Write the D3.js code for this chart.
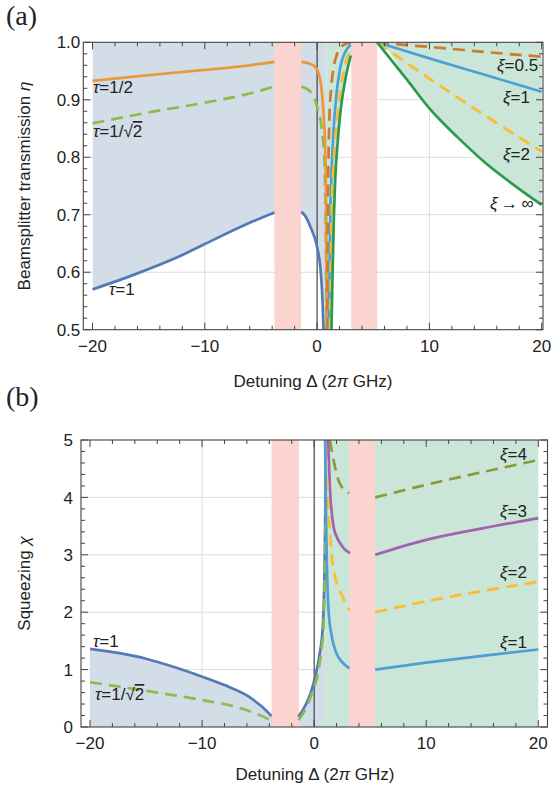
<!DOCTYPE html>
<html>
<head>
<meta charset="utf-8">
<script src="https://cdn.jsdelivr.net/npm/d3@7"></script>
<style>
body { margin: 0; background: #fff; }
text { font-family: "Liberation Sans", Arial, sans-serif; fill: #222; }
</style>
</head>
<body>
<svg id="fig" width="551" height="791"></svg>
<script>
// ---- panel (a): beamsplitter transmission eta vs detuning ----
const tauOneL  = [[-20,0.57],[-16,0.598],[-12,0.63],[-10,0.649],[-6,0.686],[-3.8,0.704]];
const tauOneR  = [[-1.4,0.705],[-1.0,0.696],[-0.6,0.679],[0,0.644],[0.28,0.61],[0.48,0.552],[0.57,0.5]];
const tauSqL   = [[-20,0.859],[-15,0.878],[-10,0.895],[-6,0.911],[-3.8,0.923]];
const tauSqR   = [[-1.4,0.923],[-0.6,0.914],[0,0.888],[0.43,0.847],[0.66,0.79],[0.75,0.7],[0.8,0.6],[0.83,0.5]];
const tauHalfL = [[-20,0.933],[-15,0.943],[-10,0.952],[-6,0.960],[-3.8,0.966]];
const tauHalfR = [[-1.4,0.966],[-0.7,0.963],[-0.2,0.958],[0.1,0.948],[0.37,0.923],[0.57,0.876],[0.72,0.82],[0.8,0.72],[0.84,0.6],[0.86,0.5]];
const xiHalfL  = [[0.9,0.5],[0.93,0.62],[0.97,0.72],[1.02,0.8],[1.1,0.87],[1.25,0.92],[1.46,0.955],[1.75,0.978],[2.06,0.99],[2.5,0.997],[3.0,1.0]];
const xiHalfR  = [[5.35,1.0],[8,0.995],[10,0.992],[15,0.983],[20,0.975]];
const xiOneL   = [[1.05,0.5],[1.12,0.62],[1.2,0.72],[1.3,0.78],[1.46,0.845],[1.7,0.905],[2.06,0.956],[2.5,0.983],[3.0,0.996]];
const xiOneR   = [[5.35,1.0],[7,0.99],[10,0.972],[15,0.943],[20,0.914]];
const xiTwoL   = [[1.15,0.5],[1.22,0.62],[1.32,0.72],[1.46,0.78],[1.7,0.847],[2.0,0.905],[2.5,0.962],[3.0,0.988]];
const xiTwoR   = [[5.35,1.0],[10,0.937],[15,0.872],[20,0.81]];
const xiInfL   = [[1.28,0.5],[1.38,0.6],[1.5,0.7],[1.61,0.76],[1.85,0.83],[2.06,0.876],[2.5,0.934],[3.0,0.977]];
const xiInfR   = [[5.35,1.0],[8,0.935],[10,0.885],[12.5,0.835],[15,0.79],[17.5,0.752],[20,0.717]];

// ---- panel (b): squeezing chi vs detuning ----
const tauOneBL = [[-20,1.36],[-17.5,1.29],[-15,1.19],[-12.5,1.045],[-10,0.877],[-8,0.73],[-6,0.55],[-4.7,0.36],[-3.8,0.19]];
const tauOneBR = [[-1.4,0.18],[-0.8,0.37],[-0.3,0.6],[0.1,0.88],[0.5,1.28],[0.75,1.7],[0.88,2.3],[0.95,3.0],[1.0,4.0],[1.03,5.0]];
const tauSqBL  = [[-20,0.78],[-15,0.63],[-10,0.47],[-7,0.35],[-5,0.22],[-3.8,0.11]];
const tauSqBR  = [[-1.4,0.12],[-0.8,0.3],[-0.2,0.59],[0.39,0.99],[0.65,1.35],[0.84,1.75],[0.93,2.4],[0.99,3.2],[1.03,4.2],[1.06,5.0]];
const xiOneBL  = [[0.98,5.0],[1.05,3.8],[1.13,2.9],[1.28,2.04],[1.58,1.57],[2.0,1.28],[2.5,1.13],[3.15,1.02]];
const xiOneBR  = [[5.45,1.0],[10,1.12],[15,1.24],[20,1.35]];
const xiTwoBL  = [[0.98,5.0],[1.15,4.2],[1.28,3.78],[1.58,2.95],[1.9,2.6],[2.3,2.38],[2.7,2.2],[3.15,2.03]];
const xiTwoBR  = [[5.45,2.0],[10,2.19],[15,2.37],[20,2.53]];
const xiThrBL  = [[1.25,5.0],[1.35,4.45],[1.43,4.07],[1.58,3.72],[1.73,3.49],[2.0,3.32],[2.32,3.2],[2.7,3.1],[3.2,3.03]];
const xiThrBR  = [[5.45,3.0],[10,3.26],[15,3.46],[20,3.64]];
const xiFourBL = [[1.4,5.0],[1.73,4.65],[2.17,4.3],[2.76,4.12],[3.1,4.07]];
const xiFourBR = [[5.45,4.0],[10,4.22],[15,4.44],[20,4.65]];

const bandsA = [[-3.8,-1.42],[3.04,5.35]];
const bandsB = [[-3.8,-1.36],[3.15,5.45]];
const xTicks = [-20,-10,0,10,20];
const xTickLabels = ["\u221220","\u221210","0","10","20"];
const yTicksA = [0.5,0.6,0.7,0.8,0.9,1.0];
const yTicksB = [0,1,2,3,4,5];

const col = {
  tau1: "#5479b7", tauSq: "#8dbb4c", tauHalf: "#e89a3a",
  xiHalf: "#cf7a2e", xi1: "#4f9fd3", xi2: "#fdbb2d", xiInf: "#2c9a4c",
  xi3: "#a262ad", xi4: "#8a9a38",
  fillBlue: "#d3dde8", fillGreen: "#cae6d8", band: "#fbd4cf"
};

const svg = d3.select("#fig");
const defs = svg.append("defs");

function makePanel(o) {
  const x = d3.scaleLinear().domain([-20, 20]).range(o.xr);
  const y = d3.scaleLinear().domain(o.yd).range(o.yr);
  const F = o.frame;
  defs.append("clipPath").attr("id", "clip" + o.name)
    .append("rect").attr("x", F.l).attr("y", F.t).attr("width", F.r - F.l).attr("height", F.b - F.t);
  const g = svg.append("g");
  const plot = g.append("g").attr("clip-path", "url(#clip" + o.name + ")");
  // grid
  plot.selectAll(".gx").data([-10, 10]).enter().append("line")
    .attr("x1", d => x(d)).attr("x2", d => x(d)).attr("y1", F.t).attr("y2", F.b)
    .attr("stroke", "#dcdcdc").attr("stroke-width", 1);
  plot.selectAll(".gy").data(o.grid).enter().append("line")
    .attr("y1", d => y(d)).attr("y2", d => y(d)).attr("x1", F.l).attr("x2", F.r)
    .attr("stroke", "#dcdcdc").attr("stroke-width", 1);
  return { g, plot, x, y, F, o };
}

function drawBands(p, bands) {
  p.plot.selectAll(".band").data(bands).enter().append("rect")
    .attr("x", d => p.x(d[0])).attr("width", d => p.x(d[1]) - p.x(d[0]))
    .attr("y", p.F.t).attr("height", p.F.b - p.F.t).attr("fill", col.band);
  p.plot.append("line").attr("x1", p.x(0)).attr("x2", p.x(0))
    .attr("y1", p.F.t).attr("y2", p.F.b).attr("stroke", "#222").attr("stroke-width", 1);
}

function curve(p, pts, color, dashed) {
  p.plot.append("path").datum(pts)
    .attr("d", d3.line().x(d => p.x(d[0])).y(d => p.y(d[1])).curve(d3.curveMonotoneX))
    .attr("fill", "none").attr("stroke", color).attr("stroke-width", 2.7)
    .attr("stroke-dasharray", dashed ? "12,7" : null);
}

function frame(p, minorY, yFmt, yLabOff) {
  const { g, x, y, F } = p;
  g.append("rect").attr("x", F.l).attr("y", F.t).attr("width", F.r - F.l).attr("height", F.b - F.t)
    .attr("fill", "none").attr("stroke", "#444").attr("stroke-width", 1.1);
  const minorX = d3.range(-20, 20.01, 2);
  const yd = p.o.yd;
  const minorYs = d3.range(yd[0], yd[1] + 1e-9, minorY);
  const tk = g.append("g").attr("stroke", "#444").attr("stroke-width", 1);
  minorX.forEach(v => {
    const L = (v % 10 === 0) ? 7 : 4;
    tk.append("line").attr("x1", x(v)).attr("x2", x(v)).attr("y1", F.b).attr("y2", F.b - L);
    tk.append("line").attr("x1", x(v)).attr("x2", x(v)).attr("y1", F.t).attr("y2", F.t + L);
  });
  minorYs.forEach(v => {
    const major = p.o.yMajor.some(m => Math.abs(m - v) < 1e-6);
    const L = major ? 7 : 4;
    tk.append("line").attr("y1", y(v)).attr("y2", y(v)).attr("x1", F.l).attr("x2", F.l + L);
    tk.append("line").attr("y1", y(v)).attr("y2", y(v)).attr("x1", F.r).attr("x2", F.r - L);
  });
  g.selectAll(".xl").data(xTicks).enter().append("text")
    .attr("x", d => x(d)).attr("y", F.b + 22).attr("text-anchor", "middle")
    .attr("font-size", 17).text((d, i) => xTickLabels[i]);
  g.selectAll(".yl").data(p.o.yMajor).enter().append("text")
    .attr("x", F.l - yLabOff).attr("y", d => y(d)).attr("dy", "0.36em").attr("text-anchor", "end")
    .attr("font-size", 17).text(d => yFmt(d));
}

function label(sel, x, y, parts, size) {
  const t = sel.append("text").attr("x", x).attr("y", y).attr("font-size", size || 17);
  parts.forEach(pt => {
    const s = t.append("tspan").text(pt[0]);
    if (pt[1] === "i") s.attr("font-style", "italic");
    if (pt[1] === "o") s.attr("text-decoration", "overline");
  });
  return t;
}

// ================= panel (a) =================
const A = makePanel({ name: "A", xr: [92.5, 541.7], yd: [0.5, 1.0], yr: [329.7, 42.3],
  frame: { l: 83.3, r: 543, t: 42.3, b: 329.7 }, grid: [0.6, 0.7, 0.8, 0.9], yMajor: yTicksA });

defs.append("clipPath").attr("id", "clipBlueA").append("rect")
  .attr("x", A.x(-20)).attr("y", 0).attr("width", A.x(0.87) - A.x(-20)).attr("height", 400);
A.plot.append("path").datum(tauOneL.concat(tauOneR, [[0.87, 0.5]]))
  .attr("d", d3.area().x(d => A.x(d[0])).y0(A.y(1)).y1(d => A.y(d[1])).curve(d3.curveMonotoneX))
  .attr("fill", col.fillBlue).attr("clip-path", "url(#clipBlueA)");
A.plot.append("path").datum([[0.87, 0.5]].concat(xiInfL, xiInfR))
  .attr("d", d3.area().x(d => A.x(d[0])).y0(A.y(1)).y1(d => A.y(d[1])).curve(d3.curveMonotoneX))
  .attr("fill", col.fillGreen);
drawBands(A, bandsA);

curve(A, tauOneL, col.tau1); curve(A, tauOneR, col.tau1);
curve(A, tauSqL, col.tauSq, true); curve(A, tauSqR, col.tauSq, true);
curve(A, tauHalfL, col.tauHalf); curve(A, tauHalfR, col.tauHalf);
curve(A, xiHalfL, col.xiHalf, true); curve(A, xiHalfR, col.xiHalf, true);
curve(A, xiOneL, col.xi1); curve(A, xiOneR, col.xi1);
curve(A, xiTwoL, col.xi2, true); curve(A, xiTwoR, col.xi2, true);
curve(A, xiInfL, col.xiInf); curve(A, xiInfR, col.xiInf);
frame(A, 0.02, d3.format(".1f"), 3);

label(svg, 93, 93, [["\u03c4", "i"], ["=1/2"]]);
label(svg, 93, 137, [["\u03c4", "i"], ["=1/\u221a"], ["2", "o"]]);
label(svg, 109, 295, [["\u03c4", "i"], ["=1"]]);
label(svg, 497, 71, [["\u03be", "i"], ["=0.5"]]);
label(svg, 503, 103, [["\u03be", "i"], ["=1"]]);
label(svg, 503, 160, [["\u03be", "i"], ["=2"]]);
label(svg, 490, 209, [["\u03be", "i"], ["\u2009\u2192\u2009\u221e"]]);

label(svg, 0, 0, [["Beamsplitter transmission "], ["\u03b7", "i"]])
  .attr("text-anchor", "middle").attr("transform", "translate(30,186) rotate(-90)");
label(svg, 313, 387, [["Detuning \u0394 (2"], ["\u03c0", "i"], [" GHz)"]]).attr("text-anchor", "middle");
svg.append("text").attr("x", 6).attr("y", 25).attr("font-size", 28)
  .style("font-family", "'Liberation Serif', serif").text("(a)");

// ================= panel (b) =================
const B = makePanel({ name: "B", xr: [90, 538.3], yd: [0, 5], yr: [727, 440],
  frame: { l: 81, r: 547.5, t: 440, b: 727 }, grid: [1, 2, 3, 4], yMajor: yTicksB });

defs.append("clipPath").attr("id", "clipBlueB").append("rect")
  .attr("x", B.x(-20)).attr("y", 0).attr("width", B.x(0.98) - B.x(-20)).attr("height", 800);
B.plot.append("path").datum(tauOneBL.concat(tauOneBR))
  .attr("d", d3.area().x(d => B.x(d[0])).y0(B.y(0)).y1(d => B.y(d[1])).curve(d3.curveMonotoneX))
  .attr("fill", col.fillBlue).attr("clip-path", "url(#clipBlueB)");
B.plot.append("rect").attr("x", B.x(0.98)).attr("width", B.x(20) - B.x(0.98))
  .attr("y", B.y(5)).attr("height", B.y(0) - B.y(5)).attr("fill", col.fillGreen);
drawBands(B, bandsB);

curve(B, tauOneBL, col.tau1); curve(B, tauOneBR, col.tau1);
curve(B, tauSqBL, col.tauSq, true); curve(B, tauSqBR, col.tauSq, true);
curve(B, xiFourBL, col.xi4, true); curve(B, xiFourBR, col.xi4, true);
curve(B, xiThrBL, col.xi3); curve(B, xiThrBR, col.xi3);
curve(B, xiTwoBL, col.xi2, true); curve(B, xiTwoBR, col.xi2, true);
curve(B, xiOneBL, col.xi1); curve(B, xiOneBR, col.xi1);
frame(B, 0.2, d3.format("d"), 8);

label(svg, 500, 460, [["\u03be", "i"], ["=4"]]);
label(svg, 500, 517, [["\u03be", "i"], ["=3"]]);
label(svg, 500, 578, [["\u03be", "i"], ["=2"]]);
label(svg, 500, 648, [["\u03be", "i"], ["=1"]]);
label(svg, 93, 647, [["\u03c4", "i"], ["=1"]]);
label(svg, 95, 700, [["\u03c4", "i"], ["=1/\u221a"], ["2", "o"]]);

label(svg, 0, 0, [["Squeezing "], ["\u03c7", "i"]])
  .attr("text-anchor", "middle").attr("transform", "translate(30,583.5) rotate(-90)");
label(svg, 315, 780, [["Detuning \u0394 (2"], ["\u03c0", "i"], [" GHz)"]]).attr("text-anchor", "middle");
svg.append("text").attr("x", 6).attr("y", 406).attr("font-size", 28)
  .style("font-family", "'Liberation Serif', serif").text("(b)");
</script>
</body>
</html>
